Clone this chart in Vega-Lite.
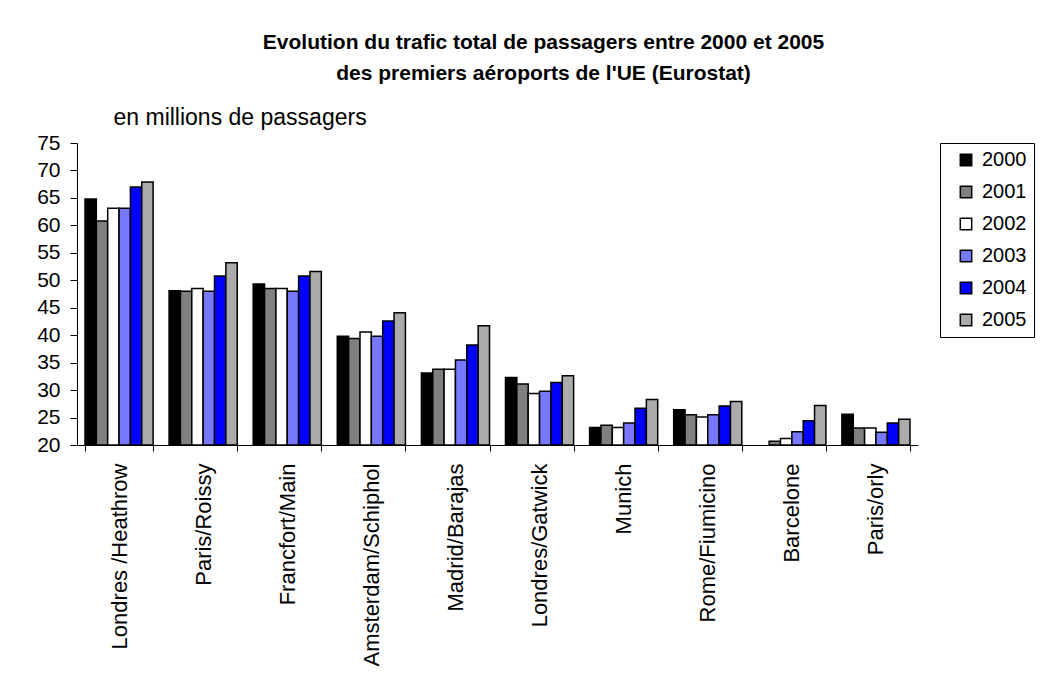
{
  "$schema": "https://vega.github.io/schema/vega-lite/v6.json",
  "width": 841,
  "height": 302,
  "autosize": "none",
  "padding": {"left": 77, "top": 143, "right": 130, "bottom": 232},
  "background": "white",
  "config": {"font": "Liberation Sans", "view": {"stroke": null}},
  "title": {
    "text": ["Evolution du  trafic total de passagers entre 2000 et 2005", "des premiers aéroports de l'UE (Eurostat)"],
    "fontSize": 21,
    "fontWeight": "bold",
    "color": "black",
    "anchor": "middle",
    "dx": 46,
    "lineHeight": 31,
    "offset": 22
  },
  "data": {
    "values": [
      {"aeroport": "Londres /Heathrow", "annee": "2000", "passagers": 64.8},
      {"aeroport": "Londres /Heathrow", "annee": "2001", "passagers": 60.8},
      {"aeroport": "Londres /Heathrow", "annee": "2002", "passagers": 63.1},
      {"aeroport": "Londres /Heathrow", "annee": "2003", "passagers": 63.1},
      {"aeroport": "Londres /Heathrow", "annee": "2004", "passagers": 67.0},
      {"aeroport": "Londres /Heathrow", "annee": "2005", "passagers": 67.9},
      {"aeroport": "Paris/Roissy", "annee": "2000", "passagers": 48.1},
      {"aeroport": "Paris/Roissy", "annee": "2001", "passagers": 48.0},
      {"aeroport": "Paris/Roissy", "annee": "2002", "passagers": 48.5},
      {"aeroport": "Paris/Roissy", "annee": "2003", "passagers": 48.0},
      {"aeroport": "Paris/Roissy", "annee": "2004", "passagers": 50.8},
      {"aeroport": "Paris/Roissy", "annee": "2005", "passagers": 53.2},
      {"aeroport": "Francfort/Main", "annee": "2000", "passagers": 49.3},
      {"aeroport": "Francfort/Main", "annee": "2001", "passagers": 48.5},
      {"aeroport": "Francfort/Main", "annee": "2002", "passagers": 48.5},
      {"aeroport": "Francfort/Main", "annee": "2003", "passagers": 48.0},
      {"aeroport": "Francfort/Main", "annee": "2004", "passagers": 50.8},
      {"aeroport": "Francfort/Main", "annee": "2005", "passagers": 51.6},
      {"aeroport": "Amsterdam/Schiphol", "annee": "2000", "passagers": 39.8},
      {"aeroport": "Amsterdam/Schiphol", "annee": "2001", "passagers": 39.4},
      {"aeroport": "Amsterdam/Schiphol", "annee": "2002", "passagers": 40.6},
      {"aeroport": "Amsterdam/Schiphol", "annee": "2003", "passagers": 39.8},
      {"aeroport": "Amsterdam/Schiphol", "annee": "2004", "passagers": 42.6},
      {"aeroport": "Amsterdam/Schiphol", "annee": "2005", "passagers": 44.1},
      {"aeroport": "Madrid/Barajas", "annee": "2000", "passagers": 33.1},
      {"aeroport": "Madrid/Barajas", "annee": "2001", "passagers": 33.8},
      {"aeroport": "Madrid/Barajas", "annee": "2002", "passagers": 33.8},
      {"aeroport": "Madrid/Barajas", "annee": "2003", "passagers": 35.5},
      {"aeroport": "Madrid/Barajas", "annee": "2004", "passagers": 38.2},
      {"aeroport": "Madrid/Barajas", "annee": "2005", "passagers": 41.7},
      {"aeroport": "Londres/Gatwick", "annee": "2000", "passagers": 32.3},
      {"aeroport": "Londres/Gatwick", "annee": "2001", "passagers": 31.1},
      {"aeroport": "Londres/Gatwick", "annee": "2002", "passagers": 29.4},
      {"aeroport": "Londres/Gatwick", "annee": "2003", "passagers": 29.8},
      {"aeroport": "Londres/Gatwick", "annee": "2004", "passagers": 31.4},
      {"aeroport": "Londres/Gatwick", "annee": "2005", "passagers": 32.6},
      {"aeroport": "Munich", "annee": "2000", "passagers": 23.2},
      {"aeroport": "Munich", "annee": "2001", "passagers": 23.6},
      {"aeroport": "Munich", "annee": "2002", "passagers": 23.2},
      {"aeroport": "Munich", "annee": "2003", "passagers": 24.0},
      {"aeroport": "Munich", "annee": "2004", "passagers": 26.7},
      {"aeroport": "Munich", "annee": "2005", "passagers": 28.3},
      {"aeroport": "Rome/Fiumicino", "annee": "2000", "passagers": 26.4},
      {"aeroport": "Rome/Fiumicino", "annee": "2001", "passagers": 25.5},
      {"aeroport": "Rome/Fiumicino", "annee": "2002", "passagers": 25.1},
      {"aeroport": "Rome/Fiumicino", "annee": "2003", "passagers": 25.5},
      {"aeroport": "Rome/Fiumicino", "annee": "2004", "passagers": 27.1},
      {"aeroport": "Rome/Fiumicino", "annee": "2005", "passagers": 27.9},
      {"aeroport": "Barcelone", "annee": "2001", "passagers": 20.7},
      {"aeroport": "Barcelone", "annee": "2002", "passagers": 21.2},
      {"aeroport": "Barcelone", "annee": "2003", "passagers": 22.4},
      {"aeroport": "Barcelone", "annee": "2004", "passagers": 24.4},
      {"aeroport": "Barcelone", "annee": "2005", "passagers": 27.2},
      {"aeroport": "Paris/orly", "annee": "2000", "passagers": 25.6},
      {"aeroport": "Paris/orly", "annee": "2001", "passagers": 23.1},
      {"aeroport": "Paris/orly", "annee": "2002", "passagers": 23.1},
      {"aeroport": "Paris/orly", "annee": "2003", "passagers": 22.3},
      {"aeroport": "Paris/orly", "annee": "2004", "passagers": 24.0},
      {"aeroport": "Paris/orly", "annee": "2005", "passagers": 24.7}
    ]
  },
  "mark": {"type": "bar", "stroke": "black", "strokeWidth": 1.5},
  "encoding": {
    "x": {
      "field": "aeroport",
      "type": "nominal",
      "sort": null,
      "scale": {"paddingInner": 0.19, "paddingOuter": 0.095},
      "axis": {
        "title": null,
        "labelAngle": -90,
        "labelAlign": "right",
        "labelBaseline": "middle",
        "labelFontSize": 22,
        "labelColor": "black",
        "labelPadding": 12,
        "tickBand": "extent",
        "tickSize": 6,
        "tickColor": "black",
        "domainColor": "black",
        "labelLimit": 400
      }
    },
    "xOffset": {
      "field": "annee",
      "type": "nominal",
      "scale": {"paddingInner": 0, "paddingOuter": 0}
    },
    "y": {
      "field": "passagers",
      "type": "quantitative",
      "scale": {"domain": [20, 75], "zero": false, "nice": false},
      "axis": {
        "values": [20, 25, 30, 35, 40, 45, 50, 55, 60, 65, 70, 75],
        "grid": false,
        "tickSize": 7,
        "tickColor": "black",
        "domainColor": "black",
        "labelFontSize": 21,
        "labelColor": "black",
        "labelPadding": 10,
        "title": "en millions de passagers",
        "titleAngle": 0,
        "titleAlign": "left",
        "titleBaseline": "alphabetic",
        "titleX": 36,
        "titleY": -19,
        "titleFontSize": 23,
        "titleFontWeight": "normal",
        "titleColor": "black"
      }
    },
    "y2": {"datum": 20},
    "fill": {
      "field": "annee",
      "type": "nominal",
      "scale": {
        "domain": ["2000", "2001", "2002", "2003", "2004", "2005"],
        "range": ["#000000", "#808080", "#ffffff", "#7878ff", "#0000ff", "#ababab"]
      },
      "legend": {
        "title": null,
        "orient": "none",
        "legendX": 863,
        "legendY": 0,
        "symbolType": "square",
        "symbolSize": 130,
        "symbolStrokeColor": "black",
        "symbolOffset": 9,
        "labelFontSize": 20,
        "labelColor": "black",
        "labelOffset": 6,
        "rowPadding": 12,
        "padding": 7,
        "strokeColor": "black"
      }
    }
  }
}
